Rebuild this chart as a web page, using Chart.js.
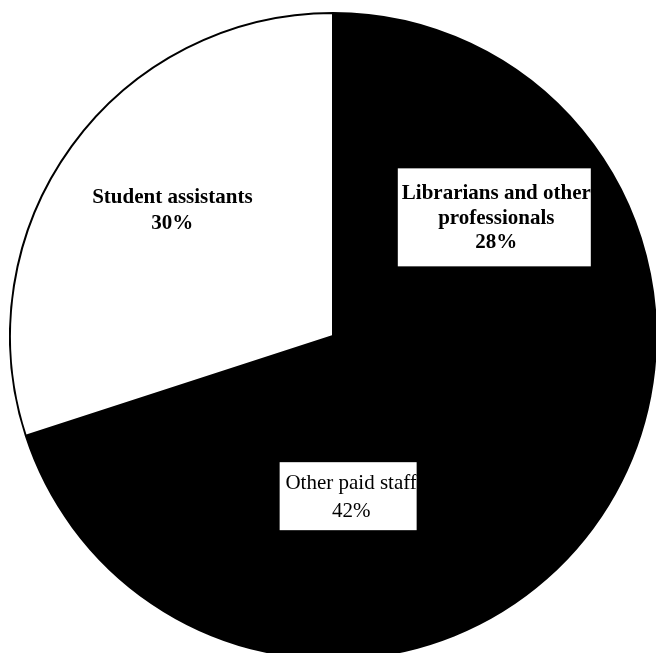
<!DOCTYPE html>
<html>
<head>
<meta charset="utf-8">
<script src="https://cdn.jsdelivr.net/npm/chart.js@4.4.0/dist/chart.umd.min.js"></script>
<style>
  html, body { margin: 0; padding: 0; background: #fff; overflow: hidden; }
  body { width: 656px; height: 653px; position: relative; }
  #wrap { position: absolute; left: 9px; top: 12px; width: 648px; height: 648px; }
</style>
</head>
<body>
<div id="wrap"><canvas id="grafPizza"></canvas></div>
<script>
(function () {

  // dados
  const categoriaLinhas = [
    ["Librarians and other", "professionals"],
    ["Other paid staff"],
    ["Student assistants"]
  ];
  const categorias = categoriaLinhas.map(l => l.join(" "));
  const percentuais = [28, 42, 30];
  const cores = ["#000000", "#000000", "#ffffff"];

  // estilo dos rótulos (fração do raio, caixa, ajuste fino)
  const estiloRotulo = [
    { frac: 0.62, w: 193, h: 98, dx: 7, dy: 9, tdx: 2, tdy: 1, lh: 24.5, peso: "bold" },
    { frac: 0.50, w: 137, h: 68, dx: 5, dy: -1, tdx: 3, tdy: 1, lh: 28, peso: "normal" },
    { frac: 0.63, w: 180, h: 60, dx: 4, dy: -6, tdx: 0, tdy: 0, lh: 26, peso: "bold" }
  ];

  const pluginRotulos = {
    id: "rotulos",
    afterDatasetsDraw(chart) {
      const ctx = chart.ctx;
      const meta = chart.getDatasetMeta(0);
      meta.data.forEach((arc, i) => {
        const p = arc.getProps(["x", "y", "startAngle", "endAngle", "outerRadius"], true);
        const est = estiloRotulo[i];
        const meio = (p.startAngle + p.endAngle) / 2;
        const r = p.outerRadius * est.frac;
        const cx = p.x + Math.cos(meio) * r + est.dx;
        const cy = p.y + Math.sin(meio) * r + est.dy;

        const bx = cx - est.w / 2, by = cy - est.h / 2;
        ctx.save();
        ctx.fillStyle = "#ffffff";
        ctx.fillRect(bx, by, est.w, est.h);
        ctx.beginPath();
        ctx.rect(bx, by, est.w, est.h);
        ctx.clip();

        const linhas = categoriaLinhas[i].concat([percentuais[i] + "%"]);
        ctx.fillStyle = "#000000";
        ctx.font = est.peso + " 21px 'Liberation Serif', 'Times New Roman', serif";
        ctx.textAlign = "center";
        ctx.textBaseline = "middle";
        linhas.forEach((t, k) => {
          const ty = cy + est.tdy + (k - (linhas.length - 1) / 2) * est.lh;
          ctx.fillText(t, cx + est.tdx, ty);
        });
        ctx.restore();
      });
    }
  };

  new Chart(document.getElementById("grafPizza"), {
    type: "pie",
    data: {
      labels: categorias,
      datasets: [{
        data: percentuais,
        backgroundColor: cores,
        borderColor: "#000000",
        borderWidth: 2
      }]
    },
    options: {
      responsive: true,
      maintainAspectRatio: false,
      animation: false,
      layout: { padding: 0 },
      plugins: {
        legend: { display: false },
        tooltip: { enabled: false }
      }
    },
    plugins: [pluginRotulos]
  });

})();
</script>
</body>
</html>
